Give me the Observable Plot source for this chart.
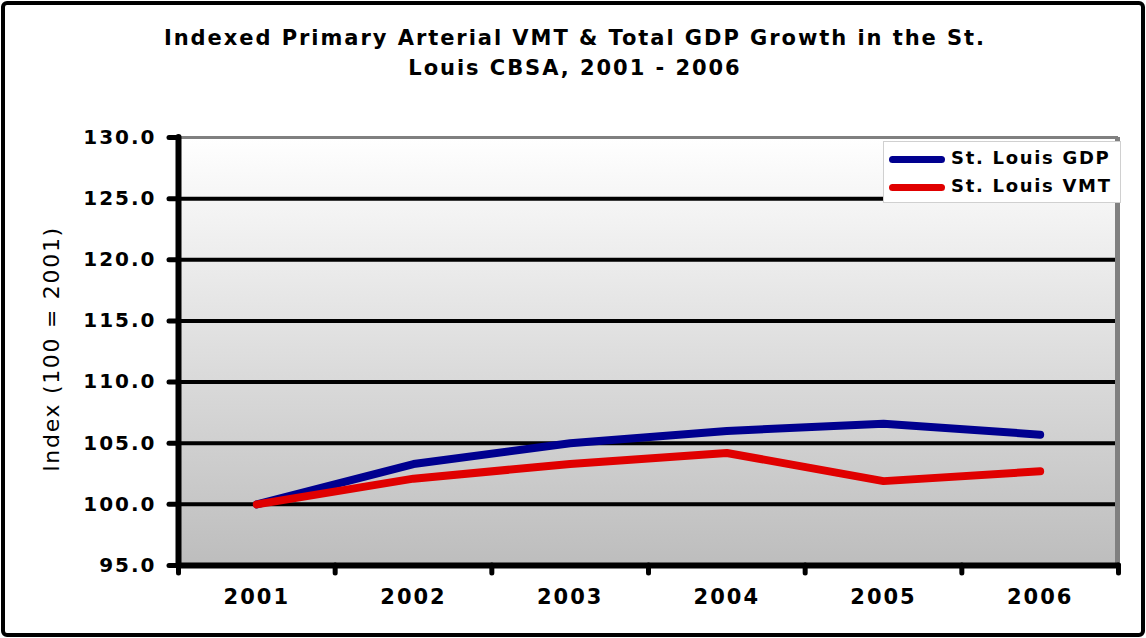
<!DOCTYPE html>
<html>
<head>
<meta charset="utf-8">
<script src="https://cdn.jsdelivr.net/npm/d3@7"></script>
<script src="https://cdn.jsdelivr.net/npm/@observablehq/plot@0.6"></script>
<style>
  html, body { margin: 0; padding: 0; background: #fff; }
  #wrap { position: relative; width: 1146px; height: 638px; overflow: hidden; background: #fff; }
  #border { position: absolute; left: 1px; top: 1px; width: 1136px; height: 628px; border: 4px solid #000; border-radius: 6px; pointer-events: none; }
  #title { position: absolute; left: 0; top: 23px; width: 1150px; text-align: center; font: bold 21px "DejaVu Sans"; letter-spacing: 1.95px; line-height: 30px; color: #000; }
  #ylabel { position: absolute; left: 51px; top: 349px; transform: translate(-50%, -50%) rotate(-90deg); white-space: nowrap; font: 22px "DejaVu Sans"; letter-spacing: 1.7px; color: #000; }
  #legend { position: absolute; left: 883px; top: 141px; width: 236px; height: 60px; background: #fff; border: 1px solid #d0d0d0; }
  .lg { position: absolute; left: 5px; height: 0; width: 56px; border-top: 7px solid; border-radius: 4px; }
  .lt { position: absolute; left: 67px; font: bold 18px "DejaVu Sans"; letter-spacing: 1.7px; color: #000; white-space: nowrap; }
  svg [aria-label="y-axis tick label"] text { font: bold 20px "DejaVu Sans"; letter-spacing: 2px; }
  svg [aria-label="x-axis tick label"] text { font: bold 21px "DejaVu Sans"; letter-spacing: 2px; }
  #chart { position: absolute; left: 0; top: 0; }
</style>
</head>
<body>
<div id="wrap">
  <div id="chart"></div>
  <div id="title">Indexed Primary Arterial VMT &amp; Total GDP Growth in the St.<br>Louis CBSA, 2001 - 2006</div>
  <div id="ylabel">Index (100 = 2001)</div>
  <div id="legend"></div>
  <div id="border"></div>
</div>
<script>
// ---- data ----
const years = [2001, 2002, 2003, 2004, 2005, 2006];
const yearLabels = ["2001", "2002", "2003", "2004", "2005", "2006"];
const gdp = [100.0, 103.3, 105.0, 106.0, 106.6, 105.7];
const vmt = [100.0, 102.1, 103.3, 104.2, 101.9, 102.7];
const seriesNames = ["St. Louis GDP", "St. Louis VMT"];
const seriesColors = ["#00008f", "#e00000"];
const yTicks = [95, 100, 105, 110, 115, 120, 125, 130];
const gridValues = [100, 105, 110, 115, 120, 125];

const rows = [];
years.forEach((y, i) => rows.push({year: y, value: gdp[i], series: seriesNames[0]}));
years.forEach((y, i) => rows.push({year: y, value: vmt[i], series: seriesNames[1]}));
const bounds = [years[0] - 0.5, ...years.map(y => y + 0.5)];

const chart = Plot.plot({
  width: 1146,
  height: 638,
  marginTop: 137,
  marginRight: 28,
  marginBottom: 73,
  marginLeft: 178,
  x: {type: "linear", domain: [bounds[0], bounds[bounds.length - 1]]},
  y: {domain: [95, 130]},
  color: {domain: seriesNames, range: seriesColors},
  marks: [
    Plot.frame({fill: "url(#plotbg)", stroke: null}),
    Plot.ruleY(gridValues, {stroke: "#000", strokeWidth: 4}),
    Plot.ruleY([130], {stroke: "#808080", strokeWidth: 3}),
    Plot.ruleX([bounds[bounds.length - 1]], {stroke: "#808080", strokeWidth: 5, dx: -1}),
    Plot.line(rows, {x: "year", y: "value", stroke: "series", z: "series", strokeWidth: 8, strokeLinecap: "round", strokeLinejoin: "round"}),
    Plot.axisY({ticks: yTicks, tickSize: 9, tickPadding: 13, strokeWidth: 5, strokeLinecap: "round", tickFormat: d => d.toFixed(1), label: null, fontSize: 20, fontWeight: "bold"}),
    Plot.axisX({ticks: bounds, tickSize: 8, strokeWidth: 5, strokeLinecap: "round", tickFormat: () => "", label: null}),
    Plot.axisX({ticks: years, tickSize: 0, tickPadding: 24, tickFormat: (d, i) => yearLabels[years.indexOf(d)], label: null, fontSize: 21, fontWeight: "bold"}),
    Plot.ruleX([bounds[0]], {y1: 95, y2: 130, stroke: "#000", strokeWidth: 6, strokeLinecap: "round"}),
    Plot.ruleY([95], {x1: bounds[0], x2: bounds[bounds.length - 1], stroke: "#000", strokeWidth: 6, strokeLinecap: "round"})
  ]
});

const svg = d3.select(chart);
const defs = svg.insert("defs", ":first-child");
const grad = defs.append("linearGradient").attr("id", "plotbg").attr("x1", 0).attr("y1", 0).attr("x2", 0).attr("y2", 1);
grad.append("stop").attr("offset", "0%").attr("stop-color", "#ffffff");
grad.append("stop").attr("offset", "100%").attr("stop-color", "#bdbdbd");
document.getElementById("chart").appendChild(chart);

// legend
const legend = document.getElementById("legend");
seriesNames.forEach((name, i) => {
  const ln = document.createElement("div");
  ln.className = "lg";
  ln.style.borderTopColor = seriesColors[i];
  ln.style.top = (14 + i * 28) + "px";
  legend.appendChild(ln);
  const t = document.createElement("div");
  t.className = "lt";
  t.style.top = (5 + i * 28) + "px";
  t.textContent = name;
  legend.appendChild(t);
});
</script>
</body>
</html>
